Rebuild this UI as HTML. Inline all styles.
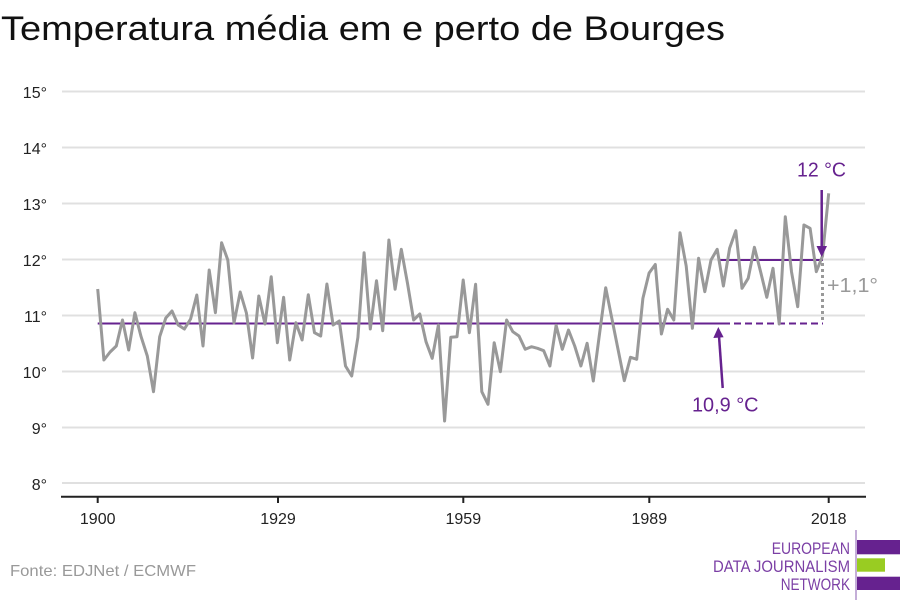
<!DOCTYPE html>
<html><head><meta charset="utf-8">
<style>
html,body{margin:0;padding:0;background:#fff;}
svg{display:block;}
text{font-family:"Liberation Sans",sans-serif;}
</style></head>
<body>
<svg width="900" height="600" viewBox="0 0 900 600" xmlns="http://www.w3.org/2000/svg">
<rect width="900" height="600" fill="#fff"/>
<text x="1" y="40" font-size="34" fill="#111" textLength="724" lengthAdjust="spacingAndGlyphs">Temperatura média em e perto de Bourges</text>

<g stroke="#e0e0e0" stroke-width="2">
<line x1="62" y1="91.5" x2="865" y2="91.5"/>
<line x1="62" y1="147.5" x2="865" y2="147.5"/>
<line x1="62" y1="203.5" x2="865" y2="203.5"/>
<line x1="62" y1="259.5" x2="865" y2="259.5"/>
<line x1="62" y1="315.5" x2="865" y2="315.5"/>
<line x1="62" y1="371.5" x2="865" y2="371.5"/>
<line x1="62" y1="427.5" x2="865" y2="427.5"/>
<line x1="62" y1="483" x2="865" y2="483"/>
</g>
<g font-size="16" fill="#222" text-anchor="end">
<text x="47" y="98">15°</text>
<text x="47" y="154">14°</text>
<text x="47" y="210">13°</text>
<text x="47" y="266">12°</text>
<text x="47" y="322">11°</text>
<text x="47" y="378">10°</text>
<text x="47" y="434">9°</text>
<text x="47" y="490">8°</text>
</g>

<line x1="61" y1="496.7" x2="866" y2="496.7" stroke="#222" stroke-width="2"/>
<g stroke="#222" stroke-width="2">
<line x1="97.7" y1="496" x2="97.7" y2="503"/>
<line x1="278" y1="496" x2="278" y2="503"/>
<line x1="463.3" y1="496" x2="463.3" y2="503"/>
<line x1="649.3" y1="496" x2="649.3" y2="503"/>
<line x1="828.7" y1="496" x2="828.7" y2="503"/>
</g>
<g font-size="16" fill="#222" text-anchor="middle">
<text x="97.7" y="524">1900</text>
<text x="278" y="524">1929</text>
<text x="463.3" y="524">1959</text>
<text x="649.3" y="524">1989</text>
<text x="828.7" y="524">2018</text>
</g>

<!-- mean lines -->
<line x1="97.7" y1="323.5" x2="723" y2="323.5" stroke="#66228f" stroke-width="2"/>
<line x1="723" y1="323.5" x2="823" y2="323.5" stroke="#66228f" stroke-width="2" stroke-dasharray="7,4"/>
<line x1="717.7" y1="260" x2="823" y2="260" stroke="#66228f" stroke-width="2"/>
<line x1="822.5" y1="263" x2="822.5" y2="322" stroke="#999" stroke-width="3" stroke-dasharray="3,3"/>

<!-- data -->
<polyline fill="none" stroke="#999" stroke-width="3" stroke-linejoin="round" points="
97.7,289 103.9,360 110.1,352 116.3,346 122.5,320 128.7,350 134.9,312.7 141.1,336.7 147.3,356 153.5,391.7
159.7,336.7 165.8,318 172.0,311 178.2,325 184.4,329 190.6,319 196.8,295 203.0,346 209.2,270 215.4,312.7
221.6,242.7 227.8,260 234.0,323 240.2,292 246.4,313 252.6,358 258.8,296 265.0,324 271.2,276.7 277.4,342.7
283.6,297.3 289.7,360 295.9,322.7 302.1,340 308.3,294.7 314.5,332.7 320.7,336 326.9,284 333.1,325 339.3,321
345.5,366 351.7,376 357.9,337.3 364.1,252.7 370.3,329 376.5,280.7 382.7,330.7 388.9,240 395.1,289.3 401.3,249.3
407.5,283.3 413.6,320 419.8,314 426.0,341.7 432.2,358.3 438.4,325 444.6,421 450.8,337.3 457.0,336.7 463.2,280
469.4,332.7 475.6,284.3 481.8,391.7 488.0,404.3 494.2,342.7 500.4,371.7 506.6,320 512.8,331.7 519.0,336 525.2,349.3
531.4,346.7 537.5,348.3 543.7,350.7 549.9,366 556.1,325.3 562.3,349.3 568.5,330 574.7,346 580.9,366 587.1,343.3
593.3,381 599.5,334 605.7,287.7 611.9,318.7 618.1,349.7 624.3,380.7 630.5,357.3 636.7,359.3 642.9,298.3 649.1,273
655.3,264.5 661.4,334 667.6,309.3 673.8,320 680.0,232.7 686.2,266 692.4,328.3 698.6,258.3 704.8,291.7 711.0,260
717.2,249.3 723.4,286 729.6,248.3 735.8,230.7 742.0,288.3 748.2,278.3 754.4,247.3 760.6,271.7 766.8,297.3 773.0,268.3
779.2,324 785.3,216.7 791.5,271.7 797.7,306.7 803.9,225 810.1,228.3 816.3,271.7 822.5,256 828.7,193.3"/>

<!-- 12 arrow -->
<line x1="821.7" y1="190" x2="821.7" y2="248" stroke="#66228f" stroke-width="2.5"/>
<polygon points="816.5,246 827,246 821.7,257" fill="#66228f"/>
<text x="821.5" y="176.7" font-size="20" fill="#66228f" text-anchor="middle" textLength="49" lengthAdjust="spacingAndGlyphs">12 °C</text>

<!-- 10,9 arrow -->
<line x1="722.7" y1="388" x2="719" y2="336" stroke="#66228f" stroke-width="2.5"/>
<polygon points="713.3,338 723.6,337.3 718.3,327" fill="#66228f"/>
<text x="692" y="411.7" font-size="20" fill="#66228f" textLength="66.5" lengthAdjust="spacingAndGlyphs">10,9 °C</text>

<text x="827" y="292" font-size="20" fill="#999" textLength="51" lengthAdjust="spacingAndGlyphs">+1,1°</text>

<text x="10" y="576" font-size="16" fill="#999" textLength="186" lengthAdjust="spacingAndGlyphs">Fonte: EDJNet / ECMWF</text>

<!-- logo -->
<line x1="856" y1="530" x2="856" y2="600" stroke="#8a5cb0" stroke-width="1"/>
<rect x="857" y="540" width="43" height="14.3" fill="#66228f"/>
<rect x="857" y="558.3" width="28" height="13.4" fill="#99cc22"/>
<rect x="857" y="576.7" width="43" height="13.3" fill="#66228f"/>
<g font-size="17" fill="#7b3fa5">
<text x="771.7" y="554" textLength="78.3" lengthAdjust="spacingAndGlyphs">EUROPEAN</text>
<text x="713" y="572" textLength="137" lengthAdjust="spacingAndGlyphs">DATA JOURNALISM</text>
<text x="780.7" y="590" textLength="69.3" lengthAdjust="spacingAndGlyphs">NETWORK</text>
</g>
</svg>
</body></html>
